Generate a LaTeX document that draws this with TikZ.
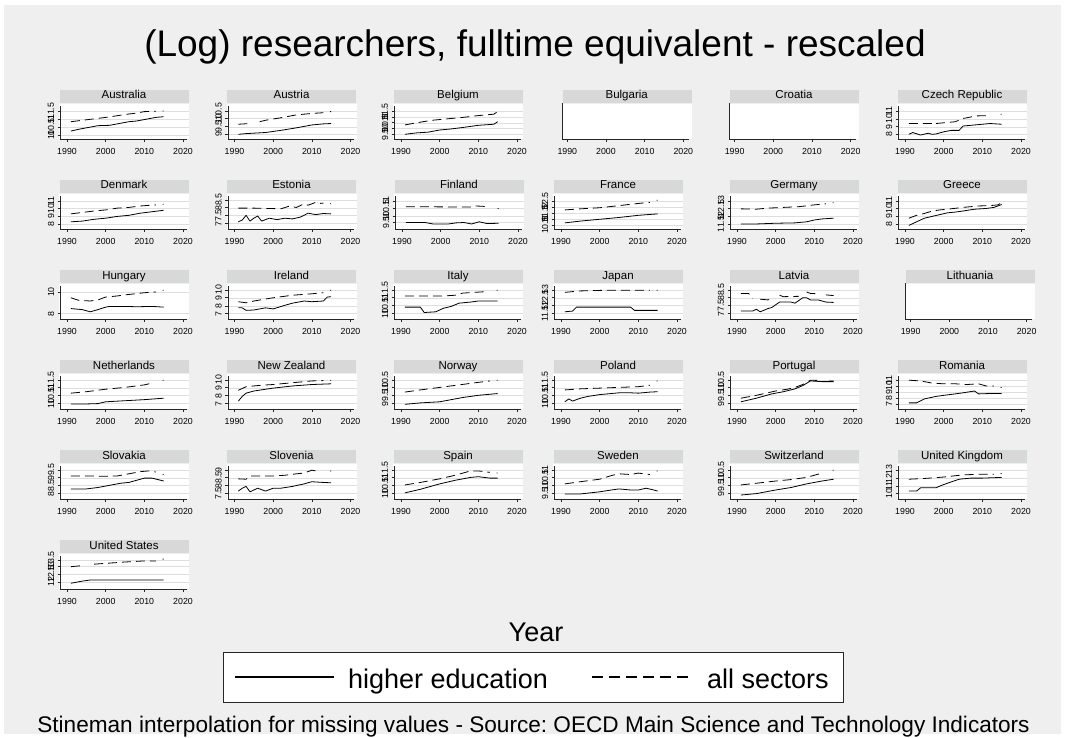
\documentclass[tikz,border=0pt]{standalone}
\usepackage{fontspec}
\setmainfont{Liberation Sans}
\frenchspacing
\definecolor{bgfill}{RGB}{239,239,239}
\definecolor{hdrfill}{RGB}{216,216,216}
\definecolor{hdrline}{RGB}{232,240,242}
\definecolor{gridgray}{RGB}{222,222,222}
\tikzset{
  hdrbox/.style={draw=hdrline,fill=hdrfill,minimum width=130pt,minimum height=14pt,inner sep=0pt,text height=8.3pt,text depth=2.3pt,font=\fontsize{11.5}{12}\selectfont},
  xlab/.style={inner sep=0pt,font=\fontsize{8.8}{10}\selectfont},
  ylab/.style={inner sep=0pt,rotate=90,font=\fontsize{8.8}{10}\selectfont},
  axisln/.style={line width=0.6pt,black!85},
  gridln/.style={line width=0.5pt,gridgray},
  higher/.style={line width=0.8pt,black,line join=round},
  allsec/.style={line width=0.8pt,black,dash pattern=on 9pt off 5pt,line join=round},
  bigtext/.style={inner sep=0pt,font=\fontsize{27}{30}\selectfont}
}
\newcommand{\countrypanel}[7]{%
\begin{scope}[shift={(#1,#2)}]
\fill[white] (0,14) rectangle (130,50);
\node[hdrbox] (#3) at (65,7) {#4};
\begin{scope}[shift={(0,50)},x=3.867pt,y=36pt,shift={(-1987.93,0)}]
\foreach \p/\l [count=\i] in {#5} {
  \draw[gridln] (1988.3,\p) -- (2021.55,\p);
  \draw[axisln] (1987.55,\p) -- (1988.3,\p);
  \node[ylab] (#3-y\i) at (1985.86,\p) {\l};
}
\draw[axisln] (1988.3,.92) -- (1988.3,0) -- (2021,0);
\foreach \yr in {1990,2000,2010,2020} {
  \draw[axisln] (\yr,0) -- (\yr,-.08);
  \node[xlab] (#3-x\yr) at (\yr,-.36) {\yr};
}
\draw[higher] #6;
\draw[allsec] #7;
\end{scope}
\end{scope}}
\newcommand{\blankpanel}[4]{%
\begin{scope}[shift={(#1,#2)}]
\fill[white] (0,14) rectangle (130,50);
\node[hdrbox] (#3) at (65,7) {#4};
\begin{scope}[shift={(0,50)},x=3.867pt,y=36pt,shift={(-1988.55,0)}]
\draw[axisln] (1988.73,1) -- (1988.73,0) -- (2021.4,0);
\foreach \yr in {1990,2000,2010,2020} {
  \draw[axisln] (\yr,0) -- (\yr,-.08);
  \node[xlab] (#3-x\yr) at (\yr,-.36) {\yr};
}
\end{scope}
\end{scope}}
\begin{document}
\begin{tikzpicture}[x=1pt,y=-1pt]
\useasboundingbox (0,0) rectangle (1065,738);
\fill[white] (0,0) rectangle (1065,738);
\fill[bgfill] (4,5) rectangle (1061,734);
\node[inner sep=0pt,anchor=base,font=\fontsize{37}{40}\selectfont] (title) at (535,57) {(Log) researchers, fulltime equivalent - rescaled};

\countrypanel{59}{89}{aus}{Australia}{.11/10,.33/10.5,.56/11,.78/11.5}
{(1991,.22) -- (1993,.27) -- (1995,.31) -- (1998,.37) -- (2001,.38) -- (2003,.42) -- (2006,.48) -- (2008,.5) -- (2011,.56) -- (2013,.6) -- (2015,.62)}
{(1991,.48) -- (1994,.52) -- (1997,.56) -- (2000,.6) -- (2002,.63) -- (2005,.68) -- (2008,.72) -- (2010,.76) -- (2013,.77) (2014.7,.78) -- (2015,.78)}
\countrypanel{226.5}{89}{aut}{Austria}{.13/9,.34/9.5,.57/10,.76/10.5}
{(1991,.13) -- (1993,.15) -- (1998,.18) -- (2002,.24) -- (2006,.31) -- (2010,.39) -- (2013,.42) -- (2015,.43)}
{(1991,.41) -- (1994,.43) (1996.5,.48) -- (1998,.52) -- (2002,.59) -- (2006,.67) -- (2010,.71) -- (2013,.73) (2014.7,.76) -- (2015,.76)}
\countrypanel{393}{89}{bel}{Belgium}{.13/9.5,.29/10,.45/10.5,.61/11,.76/11.5}
{(1991,.13) -- (1994,.17) -- (1997,.19) -- (2000,.25) -- (2003,.28) -- (2006,.32) -- (2010,.38) -- (2014,.41) -- (2015,.48)}
{(1991,.39) -- (1994,.45) -- (1998,.52) -- (2002,.56) -- (2006,.6) -- (2010,.65) -- (2014,.69) -- (2015,.76)}
\blankpanel{561.7}{89}{bgr}{Bulgaria}
\blankpanel{729}{89}{hrv}{Croatia}
\countrypanel{897}{89}{cze}{Czech Republic}{.13/8,.34/9,.56/10,.78/11}
{(1991,.13) -- (1992,.18) -- (1994,.11) -- (1996,.16) -- (1997,.13) -- (1998,.14) -- (2000,.2) -- (2002,.24) -- (2004,.24) -- (2005,.36) -- (2008,.39) -- (2010,.41) -- (2012,.43) -- (2015,.41)}
{(1991,.43) -- (1997,.43) (1998,.43) -- (2000,.45) -- (2003,.48) -- (2005,.57) -- (2007,.61) -- (2008,.64) -- (2012,.65) (2014.7,.69) -- (2015,.69)}

\countrypanel{59}{179}{dnk}{Denmark}{.13/8,.35/9,.57/10,.78/11}
{(1991,.2) -- (1994,.22) -- (1997,.27) -- (2000,.3) -- (2003,.35) -- (2006,.38) -- (2009,.44) -- (2012,.48) -- (2015,.52)}
{(1991,.42) -- (1994,.46) -- (1997,.5) -- (2000,.53) -- (2003,.58) -- (2006,.6) -- (2009,.64) -- (2013,.67) (2014.7,.69) -- (2015,.69)}
\countrypanel{226.5}{179}{est}{Estonia}{.15/7,.37/7.5,.59/8,.81/8.5}
{(1991,.2) -- (1992,.25) -- (1993,.38) -- (1994,.22) -- (1995,.3) -- (1996,.36) -- (1997,.22) -- (1999,.3) -- (2001,.26) -- (2003,.3) -- (2005,.28) -- (2007,.33) -- (2008,.38) -- (2009,.44) -- (2011,.4) -- (2013,.43) -- (2015,.42)}
{(1991,.58) -- (1995,.58) -- (1999,.57) -- (2002,.56) -- (2004,.63) -- (2006,.6) -- (2008,.7) -- (2009,.66) -- (2011,.74) -- (2012,.71) -- (2013,.72) (2014.7,.7) -- (2015,.7)}
\countrypanel{394}{179}{fin}{Finland}{.18/9.5,.36/10,.57/10.5,.78/11}
{(1991,.18) -- (1996,.18) -- (1998,.14) -- (2002,.14) -- (2004,.17) -- (2006,.18) -- (2008,.14) -- (2010,.2) -- (2012,.15) -- (2015,.16)}
{(1991,.62) -- (2008,.61) -- (2009,.64) -- (2011,.63) -- (2012,.61) (2014.7,.57) -- (2015,.57)}
\countrypanel{553}{179}{fra}{France}{.1/10.5,.27/11,.44/11.5,.61/12,.78/12.5}
{(1991,.17) -- (1995,.22) -- (2000,.27) -- (2005,.32) -- (2010,.38) -- (2015,.42)}
{(1991,.53) -- (1995,.56) -- (2000,.59) -- (2005,.65) -- (2010,.71) -- (2013,.74) (2014.7,.8) -- (2015,.8)}
\countrypanel{729}{179}{deu}{Germany}{.14/11.5,.36/12,.57/12.5,.78/13}
{(1991,.14) -- (1995,.14) -- (2000,.16) -- (2005,.17) -- (2008,.2) -- (2010,.25) -- (2012,.28) -- (2015,.3)}
{(1991,.56) -- (1995,.55) -- (1998,.58) -- (2002,.6) -- (2006,.62) -- (2010,.67) -- (2013,.7) (2014.7,.73) -- (2015,.73)}
\countrypanel{897}{179}{grc}{Greece}{.13/8,.35/9,.57/10,.78/11}
{(1991,.1) -- (1993,.2) -- (1995,.3) -- (1997,.35) -- (1999,.4) -- (2001,.45) -- (2003,.47) -- (2005,.5) -- (2008,.55) -- (2011,.57) -- (2013,.6) -- (2015,.68)}
{(1991,.3) -- (1993,.38) -- (1995,.43) -- (1997,.5) -- (1999,.53) -- (2001,.55) -- (2005,.6) -- (2009,.64) -- (2012,.65) -- (2014,.67) -- (2015,.73)}

\countrypanel{59}{269}{hun}{Hungary}{.15/8,.75/10}
{(1991,.29) -- (1994,.26) -- (1996,.2) -- (1998,.26) -- (2000,.33) -- (2001,.35) -- (2005,.35) -- (2008,.34) -- (2012,.35) -- (2015,.33)}
{(1991,.59) -- (1993,.52) -- (1996,.5) -- (1998,.53) -- (2000,.61) -- (2003,.64) -- (2005,.67) -- (2010,.73) -- (2013,.75) (2014.7,.8) -- (2015,.8)}
\countrypanel{226.5}{269}{irl}{Ireland}{.15/7,.36/8,.59/9,.81/10}
{(1991,.31) -- (1992,.31) -- (1993,.24) -- (1995,.25) -- (1998,.31) -- (2000,.28) -- (2003,.38) -- (2005,.44) -- (2008,.5) -- (2010,.48) -- (2013,.5) -- (2014,.61) -- (2015,.62)}
{(1991,.48) -- (1993,.45) -- (1995,.5) -- (2000,.59) -- (2005,.66) -- (2010,.7) -- (2013,.73) (2014.7,.8) -- (2015,.8)}
\countrypanel{393}{269}{ita}{Italy}{.15/10,.37/10.5,.59/11,.81/11.5}
{(1991,.33) -- (1995,.33) -- (1996,.18) -- (1999,.2) -- (2001,.3) -- (2003,.35) -- (2005,.44) -- (2008,.47) -- (2010,.5) -- (2015,.5)}
{(1991,.64) -- (2001,.64) -- (2004,.66) -- (2006,.72) -- (2009,.74) -- (2012,.76) (2014.7,.8) -- (2015,.8)}
\countrypanel{553}{269}{jpn}{Japan}{.15/11.5,.37/12,.59/12.5,.81/13}
{(1991,.2) -- (1993,.22) -- (1994,.33) -- (2008,.33) -- (2009,.24) -- (2015,.24)}
{(1991,.74) -- (1995,.78) -- (2002,.8) -- (2013,.8) (2014.7,.8) -- (2015,.8)}
\countrypanel{729}{269}{lva}{Latvia}{.15/7,.37/7.5,.59/8,.81/8.5}
{(1991,.22) -- (1994,.22) -- (1995,.27) -- (1996,.2) -- (1998,.29) -- (1999,.32) -- (2001,.47) -- (2004,.47) -- (2005,.44) -- (2007,.59) -- (2008,.59) -- (2009,.53) -- (2011,.53) -- (2013,.47) -- (2015,.46)}
{(1991,.71) -- (1993,.71) -- (1994,.57) (1996,.55) -- (1998,.53) -- (1999,.57) (2001,.66) -- (2002,.62) -- (2006,.63) (2008,.75) -- (2009,.71) -- (2011,.7) (2013,.67) -- (2015,.65)}
\blankpanel{905}{269}{ltu}{Lithuania}

\countrypanel{59}{359}{nld}{Netherlands}{.15/10,.37/10.5,.59/11,.81/11.5}
{(1991,.14) -- (1995,.14) -- (1998,.15) -- (2000,.2) -- (2005,.23) -- (2010,.26) -- (2015,.3)}
{(1991,.44) -- (1995,.48) -- (2000,.55) -- (2005,.6) -- (2010,.67) -- (2012,.72) (2014.7,.8) -- (2015,.8)}
\countrypanel{226.5}{359}{nzl}{New Zealand}{.15/7,.37/8,.59/9,.81/10}
{(1991,.22) -- (1992,.35) -- (1993,.44) -- (1995,.5) -- (2000,.58) -- (2005,.64) -- (2010,.68) -- (2015,.7)}
{(1991,.52) -- (1993,.62) -- (1997,.66) -- (2000,.68) -- (2005,.73) -- (2010,.78) -- (2013,.79) (2014.7,.8) -- (2015,.8)}
\countrypanel{393}{359}{nor}{Norway}{.15/9,.37/9.5,.59/10,.81/10.5}
{(1991,.13) -- (1995,.17) -- (2000,.2) -- (2003,.26) -- (2006,.32) -- (2010,.38) -- (2015,.43)}
{(1991,.47) -- (1995,.53) -- (2000,.6) -- (2005,.67) -- (2010,.74) -- (2013,.78) (2014.7,.8) -- (2015,.8)}
\countrypanel{553}{359}{pol}{Poland}{.15/10,.37/10.5,.59/11,.81/11.5}
{(1991,.2) -- (1992,.28) -- (1993,.22) -- (1995,.3) -- (1997,.35) -- (2000,.4) -- (2005,.45) -- (2008,.45) -- (2010,.44) -- (2013,.47) -- (2015,.48)}
{(1991,.53) -- (1995,.56) -- (2000,.58) -- (2005,.6) -- (2010,.62) -- (2013,.66) (2014.7,.78) -- (2015,.78)}
\countrypanel{729}{359}{prt}{Portugal}{.15/9,.37/9.5,.59/10,.81/10.5}
{(1991,.2) -- (1995,.3) -- (1999,.42) -- (2002,.48) -- (2005,.56) -- (2007,.65) -- (2009,.78) -- (2012,.76) -- (2015,.76)}
{(1991,.3) -- (1995,.38) -- (2000,.5) -- (2003,.55) -- (2005,.6) -- (2007,.68) -- (2009,.8) -- (2012,.79) (2013.8,.78) -- (2015,.78)}
\countrypanel{897}{359}{rou}{Romania}{.13/7,.3/8,.47/9,.64/10,.81/11}
{(1991,.17) -- (1993,.17) -- (1995,.28) -- (1998,.35) -- (2000,.38) -- (2003,.42) -- (2005,.45) -- (2008,.5) -- (2009,.42) -- (2012,.43) -- (2015,.43)}
{(1991,.8) -- (1994,.78) -- (1997,.72) -- (2000,.7) -- (2003,.7) -- (2006,.68) -- (2009,.7) -- (2011,.64) -- (2013,.64) (2014.7,.6) -- (2015,.6)}

\countrypanel{59}{449}{svk}{Slovakia}{.15/8,.37/8.5,.59/9,.81/9.5}
{(1991,.28) -- (1995,.28) -- (1998,.32) -- (2000,.36) -- (2002,.4) -- (2004,.44) -- (2006,.46) -- (2008,.52) -- (2010,.58) -- (2012,.58) -- (2015,.5)}
{(1991,.64) -- (1996,.64) -- (2000,.63) -- (2003,.64) -- (2006,.7) -- (2009,.76) -- (2011,.78) -- (2013,.75) (2014.7,.68) -- (2015,.68)}
\countrypanel{226.5}{449}{svn}{Slovenia}{.15/7.5,.37/8,.59/8.5,.81/9}
{(1991,.22) -- (1992,.3) -- (1993,.35) -- (1994,.2) -- (1996,.3) -- (1998,.22) -- (2000,.3) -- (2002,.3) -- (2005,.35) -- (2008,.42) -- (2010,.48) -- (2013,.46) -- (2015,.45)}
{(1991,.56) -- (1993,.55) -- (1994,.64) -- (2000,.64) -- (2003,.66) -- (2006,.7) -- (2008,.72) -- (2010,.8) -- (2012,.76) (2014.7,.78) -- (2015,.78)}
\countrypanel{393}{449}{esp}{Spain}{.15/10,.37/10.5,.59/11,.81/11.5}
{(1991,.17) -- (1995,.27) -- (2000,.42) -- (2004,.52) -- (2008,.6) -- (2010,.62) -- (2013,.58) -- (2015,.58)}
{(1991,.39) -- (1995,.46) -- (2000,.56) -- (2004,.66) -- (2008,.78) -- (2010,.78) -- (2013,.74) (2014.7,.72) -- (2015,.72)}
\countrypanel{553}{449}{swe}{Sweden}{.15/9.5,.37/10,.59/10.5,.81/11}
{(1991,.14) -- (1995,.14) -- (2000,.2) -- (2003,.25) -- (2005,.28) -- (2008,.25) -- (2010,.25) -- (2012,.3) -- (2014,.25) -- (2015,.22)}
{(1991,.42) -- (1995,.48) -- (2000,.55) -- (2003,.65) -- (2005,.7) -- (2008,.68) -- (2010,.72) -- (2013,.68) (2014.7,.78) -- (2015,.78)}
\countrypanel{729}{449}{che}{Switzerland}{.15/9,.37/9.5,.59/10,.81/10.5}
{(1991,.11) -- (1995,.15) -- (2000,.25) -- (2004,.32) -- (2008,.42) -- (2012,.5) -- (2015,.55)}
{(1991,.39) -- (1996,.45) -- (2000,.5) -- (2004,.54) -- (2008,.6) -- (2012,.72) (2014.7,.8) -- (2015,.8)}
\countrypanel{897}{449}{gbr}{United Kingdom}{.16/10,.36/11,.58/12,.81/13}
{(1991,.22) -- (1993,.22) -- (1994,.31) -- (1998,.31) -- (1999,.36) -- (2001,.44) -- (2004,.55) -- (2007,.58) -- (2010,.58) -- (2015,.6)}
{(1991,.55) -- (1995,.57) -- (2000,.61) -- (2005,.67) -- (2010,.69) -- (2013,.69) (2014.7,.71) -- (2015,.71)}

\countrypanel{59}{539}{usa}{United States}{.2/12,.41/12.5,.62/13,.81/13.5}
{(1991,.16) -- (1994,.22) -- (1996,.25) -- (2015,.25)}
{(1991,.62) -- (1994,.65) (1997,.69) -- (2005,.75) -- (2010,.78) -- (2013,.78) (2014.7,.83) -- (2015,.83)}

\node[bigtext,anchor=base] (xtitle) at (536,641) {Year};
\node[draw=black!85,fill=white,line width=0.6pt,minimum width=620pt,minimum height=49.5pt,inner sep=0pt] (legbox) at (533,677.5) {};
\coordinate (hea) at (235,677);
\coordinate (heb) at (334,677);
\coordinate (ala) at (592,677);
\coordinate (alb) at (691,677);
\draw[line width=1.3pt] (hea) -- (heb);
\draw[line width=1.3pt,dash pattern=on 10.5pt off 6.5pt] (ala) -- (alb);
\node[bigtext,anchor=base west] (helab) at (348,688) {higher education};
\node[bigtext,anchor=base west] (allab) at (707,688) {all sectors};
\node[inner sep=0pt,anchor=base,font=\fontsize{22.6}{25}\selectfont] (source) at (533.5,732) {Stineman interpolation for missing values - Source: OECD Main Science and Technology Indicators};
\end{tikzpicture}
\end{document}
